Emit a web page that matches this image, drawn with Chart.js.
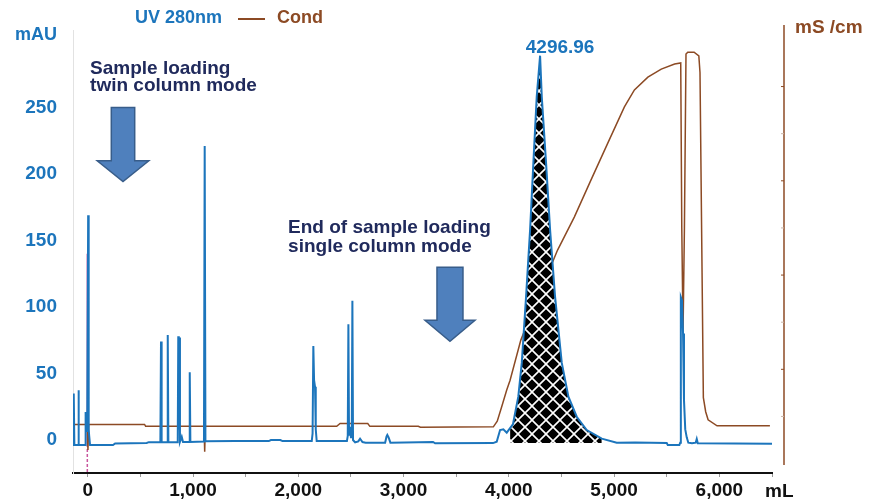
<!DOCTYPE html>
<html>
<head>
<meta charset="utf-8">
<script src="https://cdn.jsdelivr.net/npm/chart.js@4.4.1/dist/chart.umd.min.js"></script>
<style>
  html, body { margin: 0; padding: 0; background: #fff; }
  #wrap { width: 881px; height: 502px; }
</style>
</head>
<body>
<div id="wrap"><canvas id="chromChart" width="881" height="502"></canvas></div>
<script>
// UV 280 nm trace: volume (mL) / absorbance (mAU)
const uvVolume = [-140, -135, -131, -127, -92, -88, -84, -26, -20, -15, -10, -5, 4, 9, 14, 22,
  240, 260, 560, 580, 690, 696, 702, 754, 760, 766, 855, 860, 865, 870, 876, 893, 905,
  963, 969, 975, 1104, 1111, 1118, 1400, 1720, 1740, 1830, 1850,
  2128, 2136, 2143, 2150, 2159, 2166, 2175, 2462, 2470, 2476, 2482, 2490, 2500, 2508, 2514, 2520,
  2540, 2570, 2587, 2610, 2640, 2825, 2838, 2846, 2858, 2875, 3280, 3300,
  3850, 3885, 3917, 3948, 3980, 4012, 4040, 4059, 4090, 4123, 4164, 4202, 4233, 4265, 4296.96,
  4313, 4354, 4392, 4439, 4503, 4566, 4645, 4740, 4883, 5025, 5200, 5500, 5510,
  5620, 5628, 5634, 5645, 5655, 5664, 5676, 5690, 5705, 5740, 5775, 5785, 5795, 6500];
const uvAbs = [-3.8, -3.8, 35, -3.8, -3.8, 37.5, -3.8, -3.8, 21, 12, 19, 6, 169, 8, 3, -3.8,
  -3.8, -2.6, -2.2, -1.6, -1.6, 74, -1.6, -1.6, 79, -1.6, -1.6, 78, 8, 77, -1.4, 2.5, -1.4,
  -1.4, 51, -1.4, -1.2, 221, -1.0, -0.8, -0.8, 0, 0, -0.8,
  -0.8, 5, 70.6, 45, 40, 8, -0.8, -0.8, 3, 87, 4, 10, 2, 2, 104.7, 0,
  -1.8, -1, 1, -1.5, -2, -2, 2.5, 3.8, 2, -2, -1.5, -2.5,
  -2.3, -1.3, 7.5, 8, 5.5, 9, 12, 20, 32.6, 58, 108, 158, 208, 258, 289,
  258, 208, 158, 108, 58, 32.6, 17.5, 7.5, 1, -2, -1.8, -2.2, -3.8,
  -3.8, -2, 107.5, 105, 80, 30, 8, 2, -2, -2.5, -2, 0.8, -2.5, -2.8];

// conductivity trace: volume (mL) / mS/cm (axis is unlabelled)
const condVolume = [-140, -5, 2, 9, 540, 550, 1105, 1111, 1117, 2365, 2397, 2660, 2680, 3140, 3160,
  3853, 3890, 3933, 3980, 4012, 4114, 4305, 4463, 4622, 4781, 4940, 5098, 5193, 5321, 5448, 5575,
  5633, 5643, 5655, 5668, 5683, 5700, 5760, 5805, 5816, 5848, 5870, 5893, 5978, 6480];
const condValue = [8.3, 8.3, 2.9, 8.3, 8.3, 7.9, 7.9, 2.5, 7.9, 7.9, 8.5, 8.5, 7.9, 7.9, 7.7,
  7.8, 9, 12.1, 15.6, 17.7, 26.2, 36.8, 45.3, 52.3, 60.2, 68, 75.7, 79.3, 82, 83.7, 84.8,
  85, 50, 27.9, 50, 86.9, 87.3, 87.3, 86.5, 83, 14, 11, 9.3, 8, 8];

// injection mark
const markVolume = -4;
const markTop = 140;

// hatched pool under the main peak
const poolFrom = 4012;
const poolTo = 4883;
const poolBase = -2.3;

const xTickValues = [0, 500, 1000, 1500, 2000, 2500, 3000, 3500, 4000, 4500, 5000, 5500, 6000, 6500];
const yTickValues = [0, 50, 100, 150, 200, 250];
const condTickValues = [10, 20, 30, 40, 50, 60, 70, 80];

// annotations, anchored in data units
const notes = [
  { lines: ['Sample loading', 'twin column mode'], x: 22, y: 275, gap: 17 },
  { lines: ['End of sample loading', 'single column mode'], x: 1903, y: 155.4, gap: 19 }
];
const arrows = [
  { x: 335, top: 250, neck: 210, tip: 194.4, shaft: 11.7, head: 25.8 },
  { x: 3441, top: 130, neck: 90, tip: 74.3, shaft: 13, head: 25 }
];

const BLUE = '#1c75bc';
const BROWN = '#8c4a24';
const NAVY = '#202a5c';
const FONT = '"Liberation Sans", Arial, sans-serif';

Chart.defaults.font.family = FONT;

function makeHatch() {
  const c = document.createElement('canvas');
  c.width = 14; c.height = 14;
  const g = c.getContext('2d');
  g.fillStyle = '#000';
  g.fillRect(0, 0, 14, 14);
  g.strokeStyle = '#fff';
  g.lineWidth = 1.6;
  g.beginPath();
  g.moveTo(-1, -1); g.lineTo(15, 15);
  g.moveTo(15, -1); g.lineTo(-1, 15);
  g.stroke();
  return g.createPattern(c, 'repeat');
}

const uvPoints = uvVolume.map((x, i) => ({ x, y: uvAbs[i] }));
const condPoints = condVolume.map((x, i) => ({ x, y: condValue[i] }));
const poolPoints = uvPoints.filter(p => p.x >= poolFrom && p.x <= poolTo);
const apex = uvPoints.reduce((a, b) => (b.y > a.y ? b : a));

function drawArrow(ctx, cx, top, neck, tip, sh, hh) {
  ctx.beginPath();
  ctx.moveTo(cx - sh, top);
  ctx.lineTo(cx + sh, top);
  ctx.lineTo(cx + sh, neck);
  ctx.lineTo(cx + hh, neck);
  ctx.lineTo(cx, tip);
  ctx.lineTo(cx - hh, neck);
  ctx.lineTo(cx - sh, neck);
  ctx.closePath();
  ctx.fillStyle = '#4f80bd';
  ctx.fill();
  ctx.strokeStyle = '#385d8a';
  ctx.lineWidth = 1.5;
  ctx.stroke();
}

const decor = {
  id: 'decor',
  afterDraw(chart) {
    const ctx = chart.ctx;
    const area = chart.chartArea;
    const xs = chart.scales.x, ys = chart.scales.y, y2 = chart.scales.y2;
    ctx.save();

    // legend
    ctx.textBaseline = 'alphabetic';
    ctx.textAlign = 'left';
    ctx.font = 'bold 18px ' + FONT;
    ctx.fillStyle = BLUE;
    ctx.fillText('UV 280nm', 135, 23);
    ctx.strokeStyle = BROWN;
    ctx.lineWidth = 2;
    ctx.beginPath(); ctx.moveTo(238, 19); ctx.lineTo(265, 19); ctx.stroke();
    ctx.fillStyle = BROWN;
    ctx.fillText('Cond', 277, 23);

    // axis titles
    ctx.fillStyle = BLUE;
    ctx.textAlign = 'right';
    ctx.fillText('mAU', area.left - 16, 40);
    ctx.textAlign = 'left';
    ctx.font = 'bold 19px ' + FONT;
    ctx.fillStyle = BROWN;
    ctx.fillText('mS /cm', area.right + 23, 33);
    ctx.fillStyle = '#111';
    ctx.fillText('mL', area.right - 7, 497);

    // right conductivity axis, set off from the plot
    const rx = area.right + 12;
    ctx.strokeStyle = BROWN;
    ctx.lineWidth = 1.5;
    ctx.beginPath(); ctx.moveTo(rx, area.top - 5); ctx.lineTo(rx, area.bottom - 8); ctx.stroke();
    condTickValues.forEach(v => {
      const py = y2.getPixelForValue(v);
      ctx.strokeStyle = v % 20 === 0 ? BROWN : '#cbb5a8';
      ctx.lineWidth = 1;
      ctx.beginPath(); ctx.moveTo(rx - 3, py); ctx.lineTo(rx, py); ctx.stroke();
    });

    // peak label
    ctx.font = 'bold 19px ' + FONT;
    ctx.fillStyle = BLUE;
    ctx.textAlign = 'center';
    ctx.fillText(apex.x.toFixed(2), xs.getPixelForValue(apex.x) + 20, ys.getPixelForValue(apex.y) - 3);

    // notes and arrows
    ctx.textAlign = 'left';
    ctx.fillStyle = NAVY;
    notes.forEach(n => {
      const px = xs.getPixelForValue(n.x);
      const py = ys.getPixelForValue(n.y);
      n.lines.forEach((t, i) => ctx.fillText(t, px, py + i * n.gap));
    });
    arrows.forEach(a => {
      drawArrow(ctx, xs.getPixelForValue(a.x), ys.getPixelForValue(a.top),
        ys.getPixelForValue(a.neck), ys.getPixelForValue(a.tip), a.shaft, a.head);
    });
    ctx.restore();
  }
};

const ctx = document.getElementById('chromChart').getContext('2d');
new Chart(ctx, {
  type: 'scatter',
  data: {
    datasets: [
      { label: 'UV 280nm', data: uvPoints, showLine: true, borderColor: BLUE, borderWidth: 2,
        pointRadius: 0, yAxisID: 'y', order: 0 },
      { label: 'pool', data: poolPoints, showLine: true, borderWidth: 0, borderColor: 'rgba(0,0,0,0)',
        backgroundColor: makeHatch(), fill: { value: poolBase }, pointRadius: 0, yAxisID: 'y', order: 1 },
      { label: 'Cond', data: condPoints, showLine: true, borderColor: BROWN, borderWidth: 1.5,
        pointRadius: 0, yAxisID: 'y2', order: 2 },
      { label: 'mark', data: [{ x: markVolume, y: markTop }, { x: markVolume, y: -3 }], showLine: true,
        borderColor: '#c8559d', borderWidth: 1.5, pointRadius: 0, yAxisID: 'y', order: 3 },
      { label: 'mark2', data: [{ x: markVolume, y: -3 }, { x: markVolume, y: -25 }], showLine: true,
        borderColor: '#c8559d', borderWidth: 1.5, borderDash: [3, 2], pointRadius: 0, yAxisID: 'y', order: 3 }
    ]
  },
  options: {
    responsive: false,
    animation: false,
    layout: { padding: { top: 30, right: 109, bottom: 0, left: 0 } },
    plugins: { legend: { display: false }, tooltip: { enabled: false } },
    scales: {
      x: {
        type: 'linear', min: -140, max: 6500,
        afterBuildTicks: s => { s.ticks = xTickValues.map(v => ({ value: v })); },
        afterFit: s => { s.height = 29; },
        grid: { drawOnChartArea: false, drawTicks: true, tickLength: 4, color: '#9a9a9a' },
        border: { display: true, color: '#111', width: 2 },
        ticks: {
          autoSkip: false, maxRotation: 0, padding: 2, color: '#111',
          font: { size: 19, weight: 'bold' },
          callback: v => (v % 1000 === 0 && v <= 6000 ? v.toLocaleString('en-US') : '')
        }
      },
      y: {
        position: 'left', min: -24.8, max: 308.3,
        afterBuildTicks: s => { s.ticks = yTickValues.map(v => ({ value: v })); },
        afterFit: s => { s.width = 73; },
        grid: { drawOnChartArea: false, drawTicks: false },
        border: { display: true, color: '#e2e2e2', width: 1 },
        ticks: { color: BLUE, padding: 16, font: { size: 19, weight: 'bold' } }
      },
      y2: {
        display: false, position: 'right', min: -2, max: 92
      }
    }
  },
  plugins: [decor]
});
</script>
</body>
</html>
